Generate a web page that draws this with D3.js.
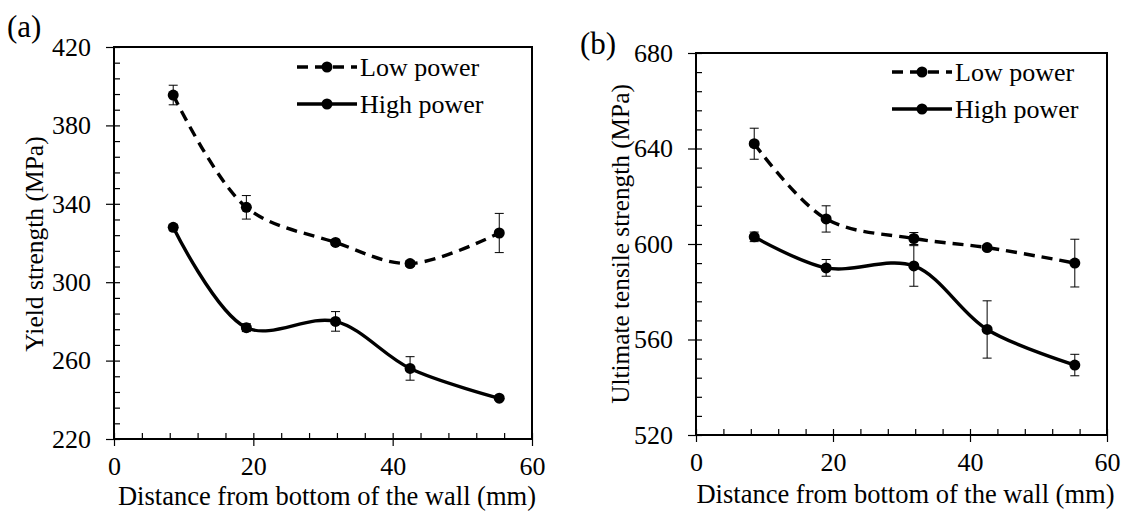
<!DOCTYPE html>
<html>
<head>
<meta charset="utf-8">
<script src="https://cdn.jsdelivr.net/npm/d3@7"></script>
<style>
  body { margin: 0; background: #fff; }
  svg text { font-family: "Liberation Serif", "Times New Roman", serif; fill: #000; }
</style>
</head>
<body>
<div id="chart"></div>
<script>
// distance from the bottom of the wall (mm)
const distance = [8.5, 19, 31.8, 42.5, 55.3];

// (a) yield strength, MPa
const yieldLow = [395.5, 338.2, 320.3, 309.5, 325.1];
const yieldLowErr = [5, 6, 1.5, 1.5, 10];
const yieldHigh = [328, 276.8, 280, 256, 240.8];
const yieldHighErr = [1.5, 2, 5, 6, 1];

// (b) ultimate tensile strength, MPa
const utsLow = [642, 610.5, 602.3, 598.5, 592];
const utsLowErr = [6.5, 5.5, 2.5, 1, 10];
const utsHigh = [603, 590, 590.8, 564.2, 549.3];
const utsHighErr = [2, 3.5, 8.5, 12, 4.5];

const xTicks = [0, 20, 40, 60];
const yTicksA = [220, 260, 300, 340, 380, 420];
const yTicksB = [520, 560, 600, 640, 680];
const seriesNames = ['Low power', 'High power'];

const W = 1128, H = 517;
const svg = d3.select('#chart').append('svg')
  .attr('width', W).attr('height', H);

const drawPanel = (cfg) => {
  const x = d3.scaleLinear().domain([0, 60]).range([cfg.left, cfg.right]);
  const y = d3.scaleLinear().domain(cfg.yDomain).range([cfg.bottom, cfg.top]);
  const g = svg.append('g');

  // minor ticks (inside)
  g.append('g')
    .attr('transform', `translate(0,${cfg.bottom})`)
    .call(d3.axisTop(x).tickValues(d3.range(0, 61, 4)).tickSize(6).tickFormat(''))
    .call(a => a.select('.domain').remove())
    .selectAll('line').attr('stroke-width', 1.2);
  g.append('g')
    .attr('transform', `translate(${cfg.left},0)`)
    .call(d3.axisRight(y).tickValues(d3.range(cfg.yDomain[0], cfg.yDomain[1] + 1, 8)).tickSize(6).tickFormat(''))
    .call(a => a.select('.domain').remove())
    .selectAll('line').attr('stroke-width', 1.2);

  // major ticks + labels
  const xa = g.append('g')
    .attr('transform', `translate(0,${cfg.bottom})`)
    .call(d3.axisBottom(x).tickValues(xTicks).tickSize(7).tickPadding(11).tickSizeOuter(0));
  xa.select('.domain').remove();
  xa.selectAll('line').attr('stroke-width', 1.2);
  xa.selectAll('text').attr('font-size', '26px');

  const ya = g.append('g')
    .attr('transform', `translate(${cfg.left},0)`)
    .call(d3.axisLeft(y).tickValues(cfg.yTicks).tickSize(8).tickPadding(15).tickSizeOuter(0));
  ya.select('.domain').remove();
  ya.selectAll('line').attr('stroke-width', 1.2);
  ya.selectAll('text').attr('font-size', '26px');

  // frame
  g.append('rect')
    .attr('x', cfg.left).attr('y', cfg.top)
    .attr('width', cfg.right - cfg.left).attr('height', cfg.bottom - cfg.top)
    .attr('fill', 'none').attr('stroke', '#000').attr('stroke-width', 2);

  // series
  const line = d3.line()
    .x((d, i) => x(distance[i]))
    .y(d => y(d))
    .curve(d3.curveCatmullRom.alpha(0.5));

  cfg.series.forEach(s => {
    const eg = g.append('g');
    eg.selectAll('line.err')
      .data(s.values)
      .enter().append('line')
      .attr('x1', (d, i) => x(distance[i])).attr('x2', (d, i) => x(distance[i]))
      .attr('y1', (d, i) => y(d - s.err[i])).attr('y2', (d, i) => y(d + s.err[i]))
      .attr('stroke', '#000').attr('stroke-width', 1);
    [-1, 1].forEach(sign => {
      eg.selectAll(null)
        .data(s.values)
        .enter().append('line')
        .attr('x1', (d, i) => x(distance[i]) - 4.5).attr('x2', (d, i) => x(distance[i]) + 4.5)
        .attr('y1', (d, i) => y(d + sign * s.err[i])).attr('y2', (d, i) => y(d + sign * s.err[i]))
        .attr('stroke', '#000').attr('stroke-width', 1);
    });

    g.append('path')
      .datum(s.values)
      .attr('d', line)
      .attr('fill', 'none')
      .attr('stroke', '#000')
      .attr('stroke-width', 3.4)
      .attr('stroke-dasharray', s.dash);

    g.selectAll(null)
      .data(s.values)
      .enter().append('circle')
      .attr('cx', (d, i) => x(distance[i]))
      .attr('cy', d => y(d))
      .attr('r', 5.5)
      .attr('fill', '#000');
  });

  // legend
  cfg.series.forEach((s, k) => {
    const ly = cfg.legendY + k * 37;
    g.append('line')
      .attr('x1', cfg.legendX).attr('x2', cfg.legendX + 60)
      .attr('y1', ly).attr('y2', ly)
      .attr('stroke', '#000').attr('stroke-width', 3.4)
      .attr('stroke-dasharray', s.dash);
    g.append('circle')
      .attr('cx', cfg.legendX + 30).attr('cy', ly).attr('r', 5.5).attr('fill', '#000');
    g.append('text')
      .attr('x', cfg.legendX + 63).attr('y', ly + 9)
      .attr('font-size', '26px')
      .text(s.name);
  });

  // axis titles
  g.append('text')
    .attr('x', (cfg.left + cfg.right) / 2 + 4)
    .attr('y', cfg.xTitleY)
    .attr('text-anchor', 'middle')
    .attr('font-size', '26.5px')
    .text('Distance from bottom of the wall (mm)');
  g.append('text')
    .attr('transform', `translate(${cfg.yTitleX},${cfg.yTitleCY}) rotate(-90)`)
    .attr('text-anchor', 'middle')
    .attr('font-size', cfg.yTitleSize)
    .text(cfg.yTitle);

  // panel label
  g.append('text')
    .attr('x', cfg.labelX).attr('y', cfg.labelY)
    .attr('font-size', '31px')
    .text(cfg.label);
};

drawPanel({
  left: 114, right: 532, top: 47, bottom: 439,
  yDomain: [220, 420], yTicks: yTicksA,
  series: [
    { name: seriesNames[0], values: yieldLow, err: yieldLowErr, dash: '11,7' },
    { name: seriesNames[1], values: yieldHigh, err: yieldHighErr, dash: null }
  ],
  legendX: 297, legendY: 67,
  xTitleY: 505, yTitleX: 43, yTitleCY: 244,
  yTitle: 'Yield  strength (MPa)', yTitleSize: '25.5px',
  label: '(a)', labelX: 7, labelY: 37
});

drawPanel({
  left: 696, right: 1107, top: 53, bottom: 435,
  yDomain: [520, 680], yTicks: yTicksB,
  series: [
    { name: seriesNames[0], values: utsLow, err: utsLowErr, dash: '11,7' },
    { name: seriesNames[1], values: utsHigh, err: utsHighErr, dash: null }
  ],
  legendX: 892, legendY: 72,
  xTitleY: 503, yTitleX: 629, yTitleCY: 244,
  yTitle: 'Ultimate  tensile strength (MPa)', yTitleSize: '25.3px',
  label: '(b)', labelX: 580, labelY: 54
});
</script>
</body>
</html>
